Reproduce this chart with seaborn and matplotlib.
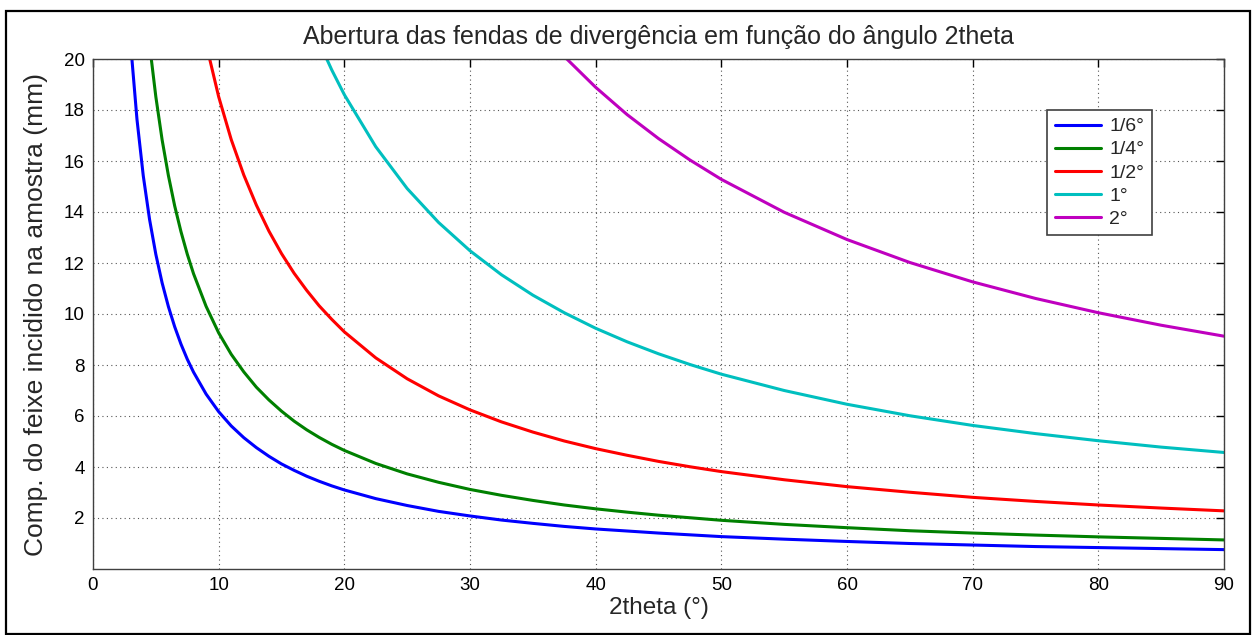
import matplotlib
matplotlib.use("Agg")
import matplotlib.pyplot as plt
import seaborn as sns
import pandas as pd
from matplotlib.patches import Rectangle

# ---- data ----
labels = ["1/6°", "1/4°", "1/2°", "1°", "2°"]

two_theta_16 = [2.5, 3, 3.5, 4, 4.5, 5, 5.5, 6, 6.5, 7, 7.5, 8, 9, 10, 11, 12, 13, 14, 15, 16,
                17, 18, 19, 20, 22.5, 25, 27.5, 30, 32.5, 35, 37.5, 40, 42.5, 45, 47.5, 50,
                55, 60, 65, 70, 75, 80, 85, 90]
length_16 = [24.68, 20.56, 17.63, 15.42, 13.71, 12.34, 11.22, 10.29, 9.50, 8.82, 8.23, 7.72,
             6.86, 6.17, 5.61, 5.15, 4.76, 4.42, 4.12, 3.87, 3.64, 3.44, 3.26, 3.10, 2.76,
             2.49, 2.26, 2.08, 1.92, 1.79, 1.67, 1.57, 1.49, 1.41, 1.34, 1.27, 1.17, 1.08,
             1.00, 0.94, 0.88, 0.84, 0.80, 0.76]

two_theta_14 = [4, 4.5, 5, 5.5, 6, 6.5, 7, 7.5, 8, 9, 10, 11, 12, 13, 14, 15, 16, 17, 18, 19,
                20, 22.5, 25, 27.5, 30, 32.5, 35, 37.5, 40, 42.5, 45, 47.5, 50, 55, 60, 65,
                70, 75, 80, 85, 90]
length_14 = [23.13, 20.57, 18.52, 16.83, 15.43, 14.24, 13.23, 12.35, 11.58, 10.30, 9.26,
             8.42, 7.73, 7.13, 6.63, 6.19, 5.80, 5.46, 5.16, 4.89, 4.65, 4.14, 3.73, 3.40,
             3.12, 2.89, 2.69, 2.51, 2.36, 2.23, 2.11, 2.01, 1.91, 1.75, 1.62, 1.50, 1.41,
             1.33, 1.26, 1.20, 1.14]

two_theta_12 = [8, 9, 10, 11, 12, 13, 14, 15, 16, 17, 18, 19, 20, 22.5, 25, 27.5, 30, 32.5,
                35, 37.5, 40, 42.5, 45, 47.5, 50, 55, 60, 65, 70, 75, 80, 85, 90]
length_12 = [23.16, 20.59, 18.52, 16.84, 15.45, 14.27, 13.25, 12.37, 11.60, 10.93, 10.32,
             9.79, 9.30, 8.28, 7.46, 6.79, 6.24, 5.77, 5.37, 5.02, 4.72, 4.46, 4.22, 4.01,
             3.82, 3.50, 3.23, 3.01, 2.81, 2.65, 2.51, 2.39, 2.28]

two_theta_1 = [16, 17, 18, 19, 20, 22.5, 25, 27.5, 30, 32.5, 35, 37.5, 40, 42.5, 45, 47.5,
               50, 55, 60, 65, 70, 75, 80, 85, 90]
length_1 = [23.21, 21.85, 20.65, 19.57, 18.60, 16.56, 14.92, 13.59, 12.48, 11.54, 10.74,
            10.05, 9.44, 8.91, 8.44, 8.02, 7.64, 7.00, 6.46, 6.01, 5.63, 5.31, 5.03, 4.78, 4.57]

two_theta_2 = [35, 37.5, 40, 42.5, 45, 47.5, 50, 55, 60, 65, 70, 75, 80, 85, 90]
length_2 = [21.49, 20.10, 18.89, 17.82, 16.88, 16.04, 15.28, 13.99, 12.92, 12.02, 11.26,
            10.61, 10.05, 9.56, 9.13]

x_ticks = [0, 10, 20, 30, 40, 50, 60, 70, 80, 90]
y_ticks = [2, 4, 6, 8, 10, 12, 14, 16, 18, 20]

title = "Abertura das fendas de divergência em função do ângulo 2theta"
xlabel = "2theta (°)"
ylabel = "Comp. do feixe incidido na amostra (mm)"

# ---- build long table ----
frames = []
for lab, xs, ys in zip(labels,
                       [two_theta_16, two_theta_14, two_theta_12, two_theta_1, two_theta_2],
                       [length_16, length_14, length_12, length_1, length_2]):
    frames.append(pd.DataFrame({"2theta": xs, "L": ys, "fenda": lab}))
df = pd.concat(frames, ignore_index=True)

colors = ["#0000ff", "#008000", "#ff0000", "#00bfbf", "#bf00bf"]

sns.set_style("white")
plt.rcParams["font.family"] = ["Liberation Sans", "DejaVu Sans"]

fig = plt.figure(figsize=(12.56, 6.35), dpi=100)
ax = fig.add_axes([93 / 1256, 1 - 569 / 635, (1224 - 93) / 1256, (569 - 59) / 635])

sns.lineplot(data=df, x="2theta", y="L", hue="fenda", hue_order=labels,
             palette=colors, estimator=None, sort=False, linewidth=2.2, ax=ax)

ax.set_xlim(0, 90)
ax.set_ylim(0, 20)
ax.set_xticks(x_ticks)
ax.set_yticks(y_ticks)
ax.grid(True, linestyle=(0, (1, 3)), color="#555555", linewidth=0.8)
ax.tick_params(direction="in", length=6, width=1, top=True, right=True,
               labelsize=13.5, colors="#000000", pad=6)
for s in ax.spines.values():
    s.set_color("#404040")
    s.set_linewidth(1.0)
    s.set_visible(True)

ax.set_title(title, fontsize=18, pad=11)
ax.set_xlabel(xlabel, fontsize=17.5, labelpad=2)
ax.set_ylabel(ylabel, fontsize=19, labelpad=11)

leg = ax.legend(loc="upper left", bbox_to_anchor=(0.8435, 0.9), fontsize=14,
                frameon=True, fancybox=False, edgecolor="#404040", framealpha=1,
                handlelength=2.4, handletextpad=0.4, labelspacing=0.28,
                borderpad=0.4, borderaxespad=0, title=None)
leg.get_frame().set_linewidth(1.2)

fig.patches.append(Rectangle((6 / 1256, 1 / 635), 1244 / 1256, 623 / 635,
                             transform=fig.transFigure, fill=False,
                             edgecolor="black", linewidth=1.6))

fig.savefig("out.png", dpi=100)
